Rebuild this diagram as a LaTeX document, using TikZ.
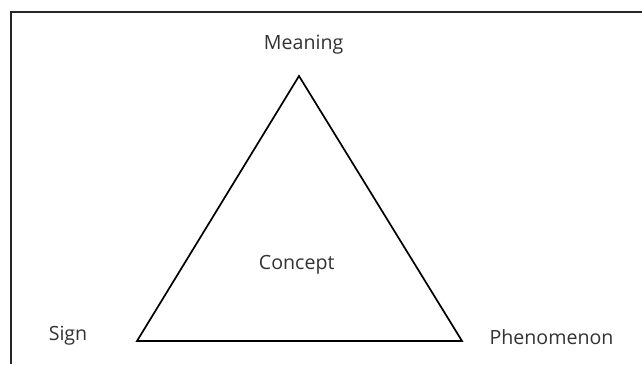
\documentclass[tikz,border=0pt]{standalone}
\usepackage{fontspec}
\setmainfont{Open Sans}
\definecolor{txt}{HTML}{333333}
\begin{document}
\begin{tikzpicture}[x=1pt,y=-1pt,
  lbl/.style={anchor=base,inner sep=0pt,text=txt,font=\fontsize{19.6}{22}\selectfont},
  edge/.style={draw=black,line width=1.7pt,line join=miter}]
\useasboundingbox (0,0) rectangle (642,364);
\fill[white] (0,0) rectangle (642,364);
\draw[line width=1.6pt,draw=black!85] (10.8,364) -- (10.8,11.8) -- (642,11.8);
\coordinate (top) at (299,76);
\coordinate (bl) at (137,341);
\coordinate (br) at (462,341);
\draw[edge] (top) -- (bl) -- (br) -- cycle;
\node[lbl] (meaning) at (303.6,49.3) {Meaning};
\node[lbl] (concept) at (296.7,269) {Concept};
\node[lbl] (sign) at (68,340.3) {Sign};
\node[lbl] (phen) at (551.5,344) {Phenomenon};
\end{tikzpicture}
\end{document}
